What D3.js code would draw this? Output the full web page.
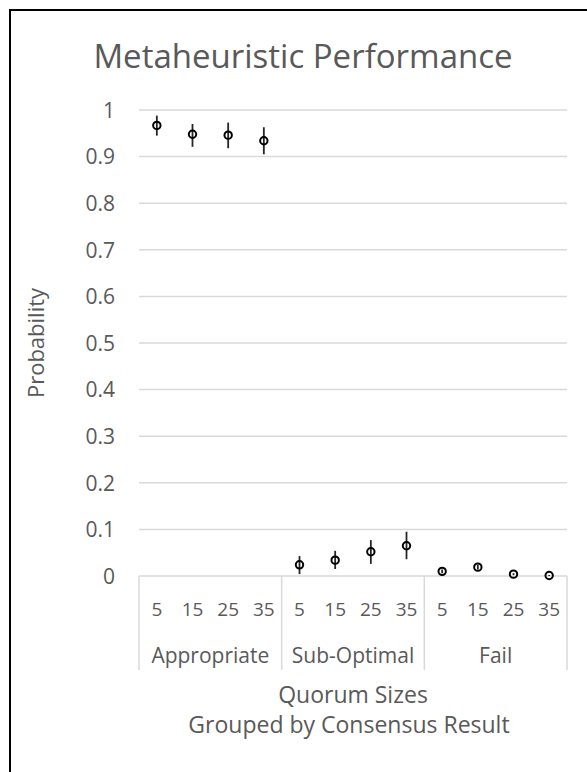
<!DOCTYPE html>
<html>
<head>
<meta charset="utf-8">
<script src="https://cdn.jsdelivr.net/npm/d3@7"></script>
<style>
  body { margin: 0; background: #fff; }
  text { font-family: "Open Sans", sans-serif; fill: #595959; }
</style>
</head>
<body>
<svg id="chart"></svg>
<script>
// Metaheuristic performance - probability per quorum size, grouped by result
const width = 587;
const height = 772;

const groups = ["Appropriate", "Sub-Optimal", "Fail"];
const quorumSizes = ["5", "15", "25", "35"];

// mean probability for each group x quorum size
const means = [
    0.967, 0.948, 0.946, 0.934,
    0.024, 0.034, 0.052, 0.065,
    0.010, 0.019, 0.004, 0.001
];
// error bar lower / upper
const lows = [
    0.945, 0.921, 0.918, 0.905,
    0.004, 0.015, 0.026, 0.036,
    0.006, 0.014, 0.002, 0.000
];
const highs = [
    0.988, 0.970, 0.973, 0.963,
    0.043, 0.054, 0.077, 0.095,
    0.014, 0.024, 0.006, 0.002
];
const yTicks = [0, 0.1, 0.2, 0.3, 0.4, 0.5, 0.6, 0.7, 0.8, 0.9, 1];

const rows = [];
groups.forEach((g, gi) => {
    quorumSizes.forEach((q, qi) => {
        const i = gi * 4 + qi;
        rows.push({ key: g + "|" + q, group: g, size: q, mean: means[i], low: lows[i], high: highs[i] });
    });
});

const svg = d3.select("#chart")
    .attr("width", width)
    .attr("height", height);

const plot = { left: 139, right: 567, top: 110, bottom: 576 };

const x = d3.scaleBand()
    .domain(rows.map(d => d.key))
    .range([plot.left, plot.right]);

const y = d3.scaleLinear()
    .domain([0, 1])
    .range([plot.bottom, plot.top]);

// frame (only top & left edges fall inside the picture)
svg.append("path")
    .attr("d", `M10,${height} L10,10 L${width},10`)
    .attr("fill", "none")
    .attr("stroke", "#000")
    .attr("stroke-width", 2);

// title
svg.append("text")
    .attr("x", 303)
    .attr("y", 68)
    .attr("text-anchor", "middle")
    .style("font-size", "33px")
    .text("Metaheuristic Performance");

// gridlines
svg.append("g")
    .selectAll("line")
    .data(yTicks)
    .enter()
    .append("line")
    .attr("x1", plot.left)
    .attr("x2", plot.right)
    .attr("y1", d => y(d))
    .attr("y2", d => y(d))
    .attr("stroke", "#d9d9d9")
    .attr("stroke-width", 1.5);

// y axis labels
const yAxis = svg.append("g")
    .attr("transform", `translate(${plot.left - 24},0)`)
    .call(d3.axisLeft(y).tickValues(yTicks).tickSize(0).tickPadding(0).tickFormat(d3.format("~g")));
yAxis.select(".domain").remove();
yAxis.selectAll("text")
    .attr("dy", "0.35em")
    .style("font-size", "21px")
    .style("font-family", "'Open Sans', sans-serif")
    .attr("fill", "#595959");

// y axis title
svg.append("text")
    .attr("transform", `translate(44,${(plot.top + plot.bottom) / 2}) rotate(-90)`)
    .attr("text-anchor", "middle")
    .style("font-size", "22px")
    .text("Probability");

// group dividers under the axis
const groupEdges = [0, 4, 8, 12].map(i => i < 12 ? x(rows[i].key) : plot.right);
svg.append("g")
    .selectAll("line")
    .data(groupEdges)
    .enter()
    .append("line")
    .attr("x1", d => d)
    .attr("x2", d => d)
    .attr("y1", plot.bottom)
    .attr("y2", 670)
    .attr("stroke", "#d9d9d9")
    .attr("stroke-width", 1.5);

// quorum size labels
svg.append("g")
    .selectAll("text")
    .data(rows)
    .enter()
    .append("text")
    .attr("x", d => x(d.key) + x.bandwidth() / 2)
    .attr("y", 616)
    .attr("text-anchor", "middle")
    .style("font-size", "19px")
    .text(d => d.size);

// group labels
svg.append("g")
    .selectAll("text")
    .data(groups)
    .enter()
    .append("text")
    .attr("x", (d, i) => (groupEdges[i] + groupEdges[i + 1]) / 2)
    .attr("y", 663)
    .attr("text-anchor", "middle")
    .style("font-size", "21px")
    .text(d => d);

// x axis titles
const midX = (plot.left + plot.right) / 2;
svg.append("text")
    .attr("x", midX)
    .attr("y", 703)
    .attr("text-anchor", "middle")
    .style("font-size", "23px")
    .text("Quorum Sizes");
svg.append("text")
    .attr("x", midX - 4)
    .attr("y", 733)
    .attr("text-anchor", "middle")
    .style("font-size", "23px")
    .text("Grouped by Consensus Result");

// error bars
const marks = svg.append("g");
marks.selectAll(".err")
    .data(rows)
    .enter()
    .append("line")
    .attr("class", "err")
    .attr("x1", d => x(d.key) + x.bandwidth() / 2)
    .attr("x2", d => x(d.key) + x.bandwidth() / 2)
    .attr("y1", d => y(d.low))
    .attr("y2", d => y(d.high))
    .attr("stroke", "#262626")
    .attr("stroke-width", 1.8);

// markers
marks.selectAll(".pt")
    .data(rows)
    .enter()
    .append("circle")
    .attr("class", "pt")
    .attr("cx", d => x(d.key) + x.bandwidth() / 2)
    .attr("cy", d => y(d.mean))
    .attr("r", 3.7)
    .attr("fill", "none")
    .attr("stroke", "#000")
    .attr("stroke-width", 2);
</script>
</body>
</html>
